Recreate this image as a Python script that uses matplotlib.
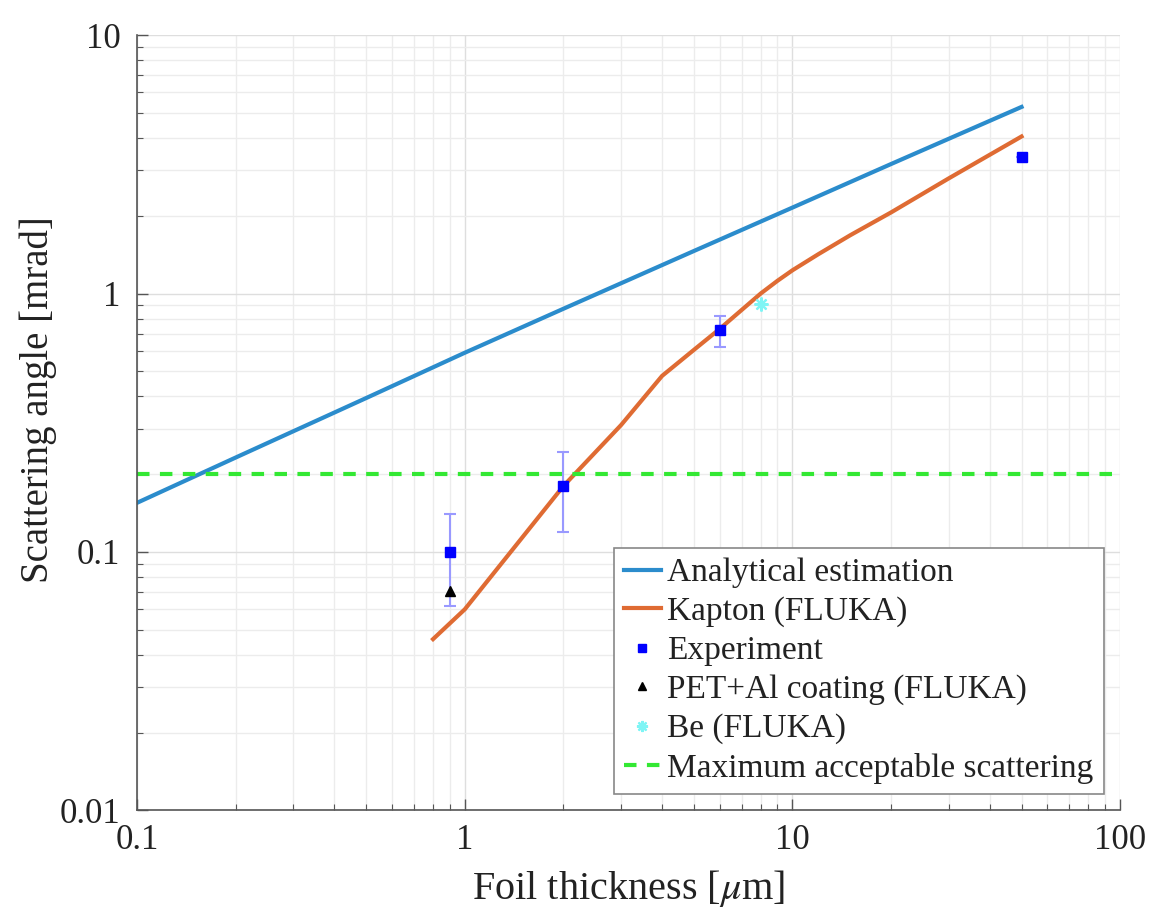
import matplotlib
matplotlib.use("Agg")
import matplotlib.pyplot as plt
import numpy as np

plt.rcParams['font.family'] = ['Liberation Serif', 'DejaVu Serif']
plt.rcParams['mathtext.fontset'] = 'stix'

# Data
analytical_x = [0.1, 0.2, 0.5, 1, 2, 5, 10, 20, 50]
analytical_y = [0.155, 0.232, 0.394, 0.59, 0.873, 1.46, 2.15, 3.17, 5.27]

kapton_x = [0.8, 1, 2, 3, 4, 5, 6, 7, 8, 9, 10, 12, 15, 20, 30, 50]
kapton_y = [0.046, 0.060, 0.18, 0.31, 0.48, 0.605, 0.73, 0.864, 1.0, 1.12, 1.23, 1.42, 1.68, 2.06, 2.79, 4.05]

exp_x = [0.9, 2, 6, 50]
exp_y = [0.10, 0.18, 0.72, 3.38]
exp_lo = [0.062, 0.12, 0.62, 3.38]
exp_hi = [0.14, 0.243, 0.822, 3.38]

pet_x = [0.9]
pet_y = [0.0707]

be_x = [8]
be_y = [0.907]

max_scatter = 0.2

fig = plt.figure(figsize=(11.62, 9.22), dpi=100)
ax = fig.add_axes([0.118, 0.121, 0.846, 0.841])
ax.set_xscale('log')
ax.set_yscale('log')
ax.set_xlim(0.1, 100)
ax.set_ylim(0.01, 10)

ax.grid(True, which='major', color='#dedede', linewidth=1.0)
ax.grid(True, which='minor', color='#ececec', linewidth=1.0)
ax.set_axisbelow(True)

l1, = ax.plot(analytical_x, analytical_y, color='#2b8ccc', lw=3, label='Analytical estimation')
l2, = ax.plot(kapton_x, kapton_y, color='#df6b33', lw=3, label='Kapton (FLUKA)')

yerr = [np.array(exp_y) - np.array(exp_lo), np.array(exp_hi) - np.array(exp_y)]
ax.errorbar(exp_x, exp_y, yerr=yerr, fmt='none', ecolor='#9999ff', elinewidth=1.5,
            capsize=4, capthick=1.5, zorder=3)
l3, = ax.plot(exp_x, exp_y, 's', color='#0000ff', ms=6.5, ls='none', label='Experiment', zorder=4)
l4, = ax.plot(pet_x, pet_y, '^', color='black', ms=7, ls='none', label='PET+Al coating (FLUKA)', zorder=4)
l5, = ax.plot(be_x, be_y, marker=(8, 2, 0), color='#7ff5f5', ms=10, mew=1.6, ls='none',
              label='Be (FLUKA)', zorder=4)
l6 = ax.axhline(max_scatter, color='#33e833', lw=3, ls=(0, (3, 2.5)), label='Maximum acceptable scattering')

for s in ['top', 'right']:
    ax.spines[s].set_visible(False)
for s in ['left', 'bottom']:
    ax.spines[s].set_color('#555555')
    ax.spines[s].set_linewidth(1.2)

ax.tick_params(which='both', direction='in', top=False, right=False, colors='#555555',
               labelcolor='#222222', labelsize=25)
ax.tick_params(which='major', length=8, width=1)
ax.tick_params(which='minor', length=4, width=0.8)
ax.tick_params(axis='x', which='major', pad=10)
ax.tick_params(axis='y', which='major', pad=12)

ax.set_xticks([0.1, 1, 10, 100])
ax.set_xticklabels(['0.1', '1', '10', '100'])
ax.set_yticks([0.01, 0.1, 1, 10])
ax.set_yticklabels(['0.01', '0.1', '1', '10'])

ax.set_xlabel(r'Foil thickness [$\mu$m]', fontsize=29, color='#222222', labelpad=8)
ax.set_ylabel('Scattering angle [mrad]', fontsize=28, color='#222222')
ax.yaxis.set_label_coords(-0.081, 0.53)

leg = ax.legend(handles=[l1, l2, l3, l4, l5, l6], loc='lower right', fontsize=24,
                frameon=True, fancybox=False, framealpha=1, edgecolor='#888888',
                handlelength=1.1, handletextpad=0.2, labelspacing=0.25,
                borderpad=0.3, borderaxespad=0.5, markerscale=0.8)
leg.get_frame().set_linewidth(1.2)
for t in leg.get_texts():
    t.set_color('#222222')

fig.savefig('out.png', dpi=100)
